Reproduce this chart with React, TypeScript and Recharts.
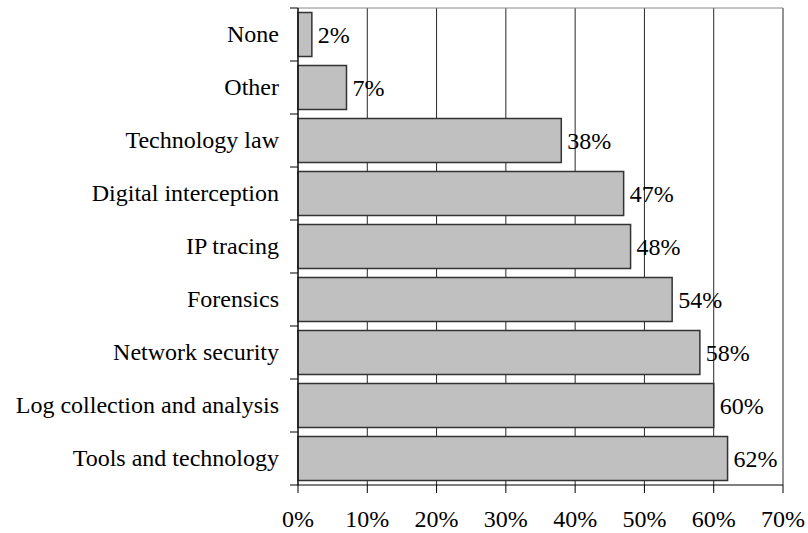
import { BarChart, Bar, XAxis, YAxis, CartesianGrid, LabelList } from "recharts";

const categories = [
  "None",
  "Other",
  "Technology law",
  "Digital interception",
  "IP tracing",
  "Forensics",
  "Network security",
  "Log collection and analysis",
  "Tools and technology",
];
const shares = [2, 7, 38, 47, 48, 54, 58, 60, 62];
const xTicks = [0, 10, 20, 30, 40, 50, 60, 70];

const data = categories.map((name, i) => ({ name, value: shares[i] }));

const FONT = "Liberation Serif, Tinos, DejaVu Serif, serif";
const WIDTH = 808;
const HEIGHT = 533;
const MARGIN = { top: 8, right: 25, bottom: 0, left: 0 };
const X_AXIS_HEIGHT = 48;
const Y_AXIS_WIDTH = 298;
const PLOT_HEIGHT = HEIGHT - MARGIN.top - MARGIN.bottom - X_AXIS_HEIGHT;
const BAND = PLOT_HEIGHT / categories.length;

const CategoryTick = (props: any) => {
  const { x, y, payload, index } = props;
  const last = index === categories.length - 1;
  return (
    <g>
      <text
        x={x - 19}
        y={y}
        dy="0.32em"
        textAnchor="end"
        fill="#000"
        style={{ fontFamily: FONT, fontSize: 24 }}
      >
        {payload.value}
      </text>
      <line x1={x - 8} x2={x} y1={y - BAND / 2} y2={y - BAND / 2} stroke="#000" />
      {last && (
        <line x1={x - 8} x2={x} y1={y + BAND / 2} y2={y + BAND / 2} stroke="#000" />
      )}
    </g>
  );
};

const App = () => {
  return (
    <div style={{ position: "absolute", left: 0, top: 0, fontFamily: FONT }}>
      <style>{`.recharts-text, text { font-family: ${FONT}; }`}</style>
      <BarChart
        width={WIDTH}
        height={HEIGHT}
        data={data}
        layout="vertical"
        margin={MARGIN}
        barCategoryGap="8.5%"
        style={{ fontFamily: FONT }}
      >
        <CartesianGrid
          horizontal={false}
          stroke="#000"
          strokeOpacity={0.85}
        />
        <CartesianGrid
          vertical={false}
          stroke="#888"
          horizontalCoordinatesGenerator={({ offset }: any) => [offset.top]}
        />
        <XAxis
          type="number"
          domain={[0, 70]}
          ticks={xTicks}
          tickFormatter={(v: number) => `${v}%`}
          height={X_AXIS_HEIGHT}
          axisLine={{ stroke: "#000" }}
          tickLine={{ stroke: "#000" }}
          tickSize={8}
          tickMargin={17}
          tick={{ fill: "#000", fontSize: 24 }}
          interval={0}
        />
        <YAxis
          type="category"
          dataKey="name"
          width={Y_AXIS_WIDTH}
          axisLine={{ stroke: "#000" }}
          tickLine={false}
          tickSize={0}
          tickMargin={0}
          interval={0}
          tick={<CategoryTick />}
        />
        <Bar
          dataKey="value"
          fill="#C0C0C0"
          stroke="#333"
          strokeWidth={1.5}
          isAnimationActive={false}
        >
          <LabelList
            dataKey="value"
            position="right"
            offset={6}
            formatter={(v: any) => `${v}%`}
            fill="#000"
            fontSize={24}
          />
        </Bar>
      </BarChart>
    </div>
  );
};

export default App;
